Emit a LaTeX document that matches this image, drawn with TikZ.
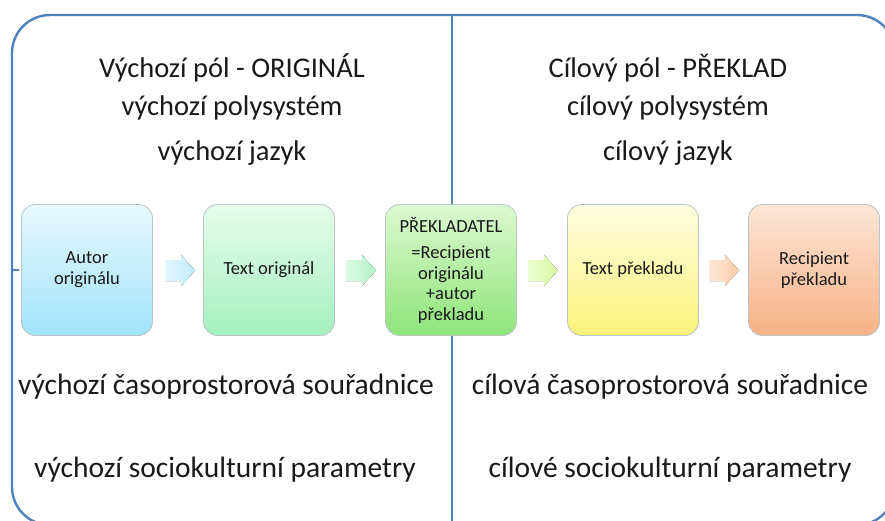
\documentclass[tikz,border=0pt]{standalone}
\usepackage{fontspec}
\setmainfont{Carlito}
\definecolor{frameblue}{HTML}{4F81BD}
\definecolor{boxline}{HTML}{B8C4C8}
\definecolor{cAtop}{HTML}{E6F8FE}\definecolor{cAbot}{HTML}{A2E3FA}
\definecolor{cBtop}{HTML}{E6FCEC}\definecolor{cBbot}{HTML}{A3F0BD}
\definecolor{cCtop}{HTML}{DDF9D0}\definecolor{cCbot}{HTML}{8EE47A}
\definecolor{cDtop}{HTML}{FEFEE0}\definecolor{cDbot}{HTML}{FAF27A}
\definecolor{cEtop}{HTML}{FDE6D6}\definecolor{cEbot}{HTML}{F7B186}
\definecolor{aA}{HTML}{BFEBFB}\definecolor{aB}{HTML}{B2F3C6}
\definecolor{aC}{HTML}{D8FA9E}\definecolor{aD}{HTML}{FDCCA6}
\tikzset{
  head/.style={font=\fontsize{28.5}{32}\selectfont, text=black!90, align=center},
  foot/.style={font=\fontsize{29.5}{32}\selectfont, text=black!90},
  stepbox/.style={draw=boxline, line width=0.8pt, rounded corners=14pt,
    minimum width=131pt, minimum height=131pt, align=center,
    font=\fontsize{18.5}{21}\selectfont, text=black!90, inner sep=2pt},
}
\newcommand{\blockarrow}[2]{%
  \fill[left color=#2!45, right color=#2] (#1,260) -- ++(16,0) -- ++(0,-5) -- ++(14,15.5) -- ++(-14,15.5) -- ++(0,-5) -- ++(-16,0) -- cycle;}
\begin{document}
\begin{tikzpicture}[x=1pt,y=-1pt]
\useasboundingbox (0,0) rectangle (885,520);
\clip (0,0) rectangle (885,520);
% frame
\draw[frameblue, line width=2.4pt, rounded corners=38pt] (12,15) rectangle (895,525);
\draw[frameblue, line width=2.4pt] (452,15) -- (452,525);
\draw[frameblue, line width=2.4pt] (12,270) -- (19,270);
% headings
\node[head] (h1) at (232,68) {Výchozí pól - ORIGINÁL};
\node[head] (h2) at (232,108) {výchozí polysystém};
\node[head] (h3) at (232,153) {výchozí jazyk};
\node[head] (g1) at (668,68) {Cílový pól - PŘEKLAD};
\node[head] (g2) at (668,108) {cílový polysystém};
\node[head] (g3) at (668,153) {cílový jazyk};
% boxes
\node[stepbox, top color=cAtop, bottom color=cAbot] (b1) at (87,270) {Autor\\originálu};
\node[stepbox, top color=cBtop, bottom color=cBbot] (b2) at (269,270) {Text originál};
\node[stepbox, top color=cCtop, bottom color=cCbot, font=\fontsize{18.5}{20.5}\selectfont] (b3) at (451,270) {PŘEKLADATEL\\[6pt]=Recipient\\originálu\\+autor\\překladu};
\node[stepbox, top color=cDtop, bottom color=cDbot] (b4) at (633,270) {Text překladu};
\node[stepbox, top color=cEtop, bottom color=cEbot] (b5) at (814,270) {Recipient\\překladu};
% arrows
\blockarrow{165}{aA}
\blockarrow{346}{aB}
\blockarrow{528}{aC}
\blockarrow{709}{aD}
% footers
\node[foot] (f1) at (226,387) {výchozí časoprostorová souřadnice};
\node[foot] (f2) at (225,470) {výchozí sociokulturní parametry};
\node[foot] (f3) at (670,387) {cílová časoprostorová souřadnice};
\node[foot] (f4) at (670,470) {cílové sociokulturní parametry};
\end{tikzpicture}
\end{document}
